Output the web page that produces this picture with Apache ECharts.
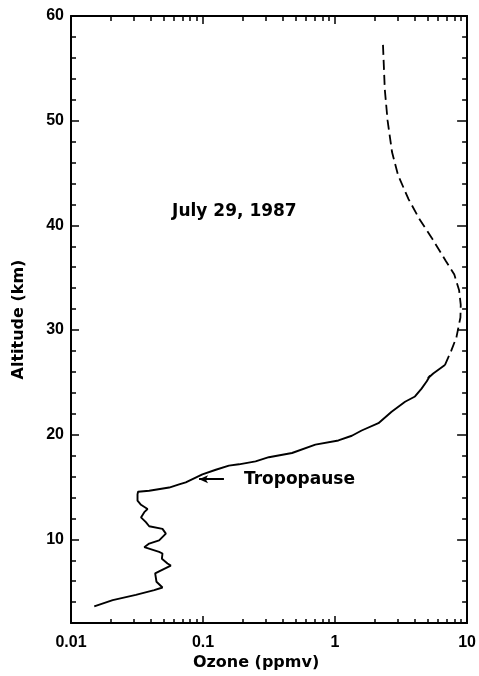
<!DOCTYPE html>
<html>
<head>
<meta charset="utf-8">
<script src="https://cdn.jsdelivr.net/npm/echarts@6/dist/echarts.min.js"></script>
<style>
html,body{margin:0;padding:0;background:#fff;}
#chart{width:479px;height:676px;}
</style>
</head>
<body>
<div id="chart"></div>
<script>
// Measured ozone profile (solid): ozone mixing ratio (ppmv) and altitude (km)
const profileOzone = [0.0150, 0.0207, 0.031, 0.0427, 0.0493, 0.0444, 0.0434, 0.0465, 0.057, 0.0538,
  0.0488, 0.0493, 0.0465, 0.0359, 0.0391, 0.0465, 0.0523, 0.0493, 0.0391, 0.0369,
  0.0339, 0.0359, 0.038, 0.0339, 0.0319, 0.0319, 0.0322, 0.0391, 0.0554, 0.0659,
  0.074, 0.0989, 0.125, 0.157, 0.187, 0.25, 0.315, 0.472, 0.709, 1.06,
  1.34, 1.59, 2.13, 2.68, 3.39, 4.03, 4.52, 4.95, 5.25, 5.05, 5.54, 6.79];
const profileAlt = [3.6, 4.2, 4.7, 5.15, 5.4, 5.95, 6.75, 6.95, 7.5, 7.7,
  8.15, 8.65, 8.8, 9.25, 9.6, 9.9, 10.55, 11.0, 11.25, 11.65,
  12.1, 12.6, 12.9, 13.3, 13.7, 14.3, 14.55, 14.65, 14.95, 15.25,
  15.45, 16.2, 16.65, 17.05, 17.17, 17.45, 17.85, 18.25, 19.05, 19.45,
  19.9, 20.4, 21.1, 22.2, 23.15, 23.65, 24.4, 25.1, 25.65, 25.4, 25.85, 26.65];
// Climatological extension above the balloon burst (dashed)
const extOzone = [6.79, 7.6, 8.3, 8.9, 8.95, 8.7, 8.0, 6.9, 5.4, 4.4, 3.6, 3.0, 2.7, 2.5, 2.38, 2.30];
const extAlt = [26.65, 28.05, 29.3, 31.2, 32.4, 33.8, 35.3, 36.6, 38.8, 40.5, 42.5, 44.8, 47.0, 50.0, 53.0, 57.6];
// Axis ticks and labels
const xMajor = [0.01, 0.1, 1, 10];
const xLabels = ['0.01', '0.1', '1', '10'];
const xMinor = [0.02,0.03,0.04,0.05,0.06,0.07,0.08,0.09,0.2,0.3,0.4,0.5,0.6,0.7,0.8,0.9,2,3,4,5,6,7,8,9];
const yMajor = [10, 20, 30, 40, 50, 60];
// Annotations
const dateText = 'July 29, 1987';
const dateAt = [0.0583, 41.35];
const tropoText = 'Tropopause';
const tropoArrowFrom = [0.144, 15.75];
const tropoArrowTo = [0.0933, 15.75];
const tropoTextAt = [0.204, 15.75];

const FONT = 'DejaVu Sans';
const TICKFONT = 'Liberation Sans';
const chart = echarts.init(document.getElementById('chart'), null, {renderer: 'canvas'});
const pair = (xs, ys) => xs.map((x, i) => [x, ys[i]]);
const lineAx = {lineStyle: {color: '#000', width: 2}};
const tickLabelStyle = {color: '#000', fontFamily: TICKFONT, fontWeight: 'bold', fontSize: 16};

const xBase = {type: 'log', logBase: 10, min: 0.01, max: 10, splitLine: {show: false}};
const yBase = {type: 'value', min: 2, max: 60, splitLine: {show: false}};

const option = {
  animation: false,
  backgroundColor: '#fff',
  grid: {left: 71, right: 11, top: 16, bottom: 48, containLabel: false},
  xAxis: [
    Object.assign({}, xBase, {position: 'bottom', axisLine: lineAx,
      name: 'Ozone (ppmv)', nameLocation: 'middle', nameGap: 27,
      nameTextStyle: {color: '#000', fontFamily: FONT, fontWeight: 'bold', fontSize: 16, padding: [0, 26, 0, 0]},
      axisTick: {inside: true, length: 7, lineStyle: {color: '#000', width: 1.5}, customValues: xMajor},
      axisLabel: Object.assign({margin: 11, customValues: xMajor,
        formatter: v => { const i = xMajor.findIndex(m => Math.abs(m - v) / m < 1e-6); return i >= 0 ? xLabels[i] : ''; }}, tickLabelStyle)}),
    Object.assign({}, xBase, {position: 'bottom', axisLine: {show: false},
      axisTick: {inside: true, length: 4, lineStyle: {color: '#000', width: 1.5}, customValues: xMinor},
      axisLabel: {show: false}}),
    Object.assign({}, xBase, {position: 'top', axisLine: lineAx,
      axisTick: {inside: true, length: 8, lineStyle: {color: '#000', width: 1.5}, customValues: xMajor},
      axisLabel: {show: false}}),
    Object.assign({}, xBase, {position: 'top', axisLine: {show: false},
      axisTick: {inside: true, length: 5, lineStyle: {color: '#000', width: 1.5}, customValues: xMinor},
      axisLabel: {show: false}})
  ],
  yAxis: [
    Object.assign({}, yBase, {position: 'left', axisLine: lineAx, interval: 2,
      name: 'Altitude (km)', nameLocation: 'middle', nameGap: 44, nameRotate: 90,
      nameTextStyle: {color: '#000', fontFamily: FONT, fontWeight: 'bold', fontSize: 16},
      axisTick: {inside: true, length: 5, lineStyle: {color: '#000', width: 1.5}},
      axisLabel: Object.assign({margin: 7, formatter: v => (v % 10 === 0 ? String(v) : '')}, tickLabelStyle)}),
    Object.assign({}, yBase, {position: 'left', axisLine: {show: false},
      axisTick: {inside: true, length: 8, lineStyle: {color: '#000', width: 1.5}, customValues: yMajor},
      axisLabel: {show: false}}),
    Object.assign({}, yBase, {position: 'right', axisLine: lineAx, interval: 2,
      axisTick: {inside: true, length: 5, lineStyle: {color: '#000', width: 1.5}},
      axisLabel: {show: false}}),
    Object.assign({}, yBase, {position: 'right', axisLine: {show: false},
      axisTick: {inside: true, length: 10, lineStyle: {color: '#000', width: 1.5}, customValues: yMajor},
      axisLabel: {show: false}})
  ],
  series: [
    {
      name: 'Measured', type: 'line', xAxisIndex: 0, yAxisIndex: 0,
      data: pair(profileOzone, profileAlt), showSymbol: false, symbol: 'none',
      lineStyle: {color: '#000', width: 1.9}, z: 5,
      markLine: {
        silent: true, symbol: ['none', 'arrow'], symbolSize: [6, 9],
        lineStyle: {color: '#000', width: 2, type: 'solid'},
        label: {show: false},
        data: [[{coord: tropoArrowFrom}, {coord: tropoArrowTo}]]
      },
      markPoint: {
        silent: true, symbol: 'circle', symbolSize: 0,
        data: [
          {coord: dateAt, label: {show: true, formatter: dateText, position: 'right', distance: 0,
            color: '#000', fontFamily: FONT, fontWeight: 'bold', fontSize: 17}},
          {coord: tropoTextAt, label: {show: true, formatter: tropoText, position: 'right', distance: 0,
            color: '#000', fontFamily: FONT, fontWeight: 'bold', fontSize: 17}}
        ]
      }
    },
    {
      name: 'Extension', type: 'line', xAxisIndex: 0, yAxisIndex: 0,
      data: pair(extOzone, extAlt), showSymbol: false, symbol: 'none',
      lineStyle: {color: '#000', width: 1.8, type: [10, 5]}, z: 4
    }
  ]
};
chart.setOption(option);
</script>
</body>
</html>
